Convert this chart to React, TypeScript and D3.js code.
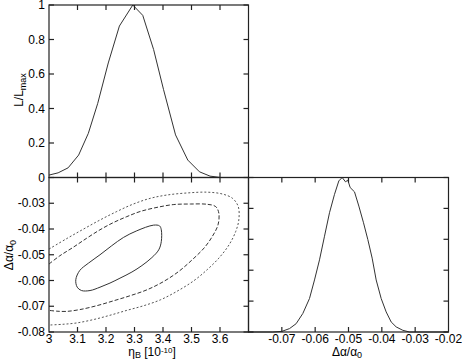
import React from 'react';
import * as d3 from 'd3';

// 1D likelihood of eta_B
const etaGrid = [3.0, 3.032, 3.067, 3.104, 3.138, 3.171, 3.208, 3.247, 3.294, 3.329, 3.367, 3.402, 3.444, 3.487, 3.528, 3.565, 3.602, 3.7];
const etaLike = [0.014, 0.027, 0.056, 0.13, 0.256, 0.43, 0.664, 0.878, 1.0, 0.94, 0.742, 0.509, 0.247, 0.101, 0.033, 0.008, 0.0, 0.0];

// 1D likelihood of Delta alpha / alpha
const daGrid = [-0.08, -0.0727, -0.070, -0.0677, -0.0657, -0.0637, -0.0617, -0.0602, -0.0587, -0.0572, -0.0557, -0.0542, -0.0529, -0.0519, -0.0509, -0.0502, -0.0495, -0.0482, -0.0469, -0.0455, -0.0442, -0.0429, -0.0417, -0.0402, -0.0387, -0.0372, -0.0357, -0.0337, -0.0317, -0.02];
const daLike = [0, 0, 0.004, 0.022, 0.054, 0.12, 0.217, 0.337, 0.467, 0.62, 0.772, 0.891, 0.978, 1.0, 0.972, 0.983, 0.935, 0.907, 0.815, 0.707, 0.598, 0.478, 0.337, 0.217, 0.13, 0.065, 0.033, 0.011, 0, 0];

// 2D contours (eta_B, Delta alpha / alpha)
const innerEta = [3.094, 3.108, 3.138, 3.179, 3.220, 3.261, 3.308, 3.367, 3.388, 3.394, 3.394, 3.385, 3.361, 3.326, 3.291, 3.249, 3.214, 3.179, 3.144, 3.114, 3.099, 3.094];
const innerDa = [-0.0597, -0.0561, -0.0533, -0.0500, -0.0465, -0.0433, -0.0407, -0.0385, -0.0388, -0.0403, -0.0449, -0.0481, -0.0511, -0.0542, -0.0567, -0.0591, -0.0610, -0.0626, -0.0639, -0.0639, -0.0626, -0.0610];

const midEta = [3.0, 3.038, 3.085, 3.132, 3.179, 3.226, 3.273, 3.320, 3.379, 3.438, 3.496, 3.555, 3.585, 3.596, 3.593, 3.573, 3.544, 3.502, 3.455, 3.402, 3.344, 3.285, 3.226, 3.167, 3.108, 3.061, 3.026, 3.0];
const midDa = [-0.0536, -0.0504, -0.0471, -0.0436, -0.0403, -0.0375, -0.0352, -0.0332, -0.0316, -0.0305, -0.0303, -0.0304, -0.0313, -0.0339, -0.0384, -0.0429, -0.0474, -0.0520, -0.0565, -0.0604, -0.0636, -0.0659, -0.0679, -0.0698, -0.0713, -0.0720, -0.0719, -0.0716];

const outEta = [3.0, 3.061, 3.120, 3.179, 3.238, 3.296, 3.355, 3.414, 3.485, 3.555, 3.608, 3.644, 3.664, 3.666, 3.655, 3.632, 3.596, 3.555, 3.508, 3.449, 3.391, 3.332, 3.273, 3.214, 3.155, 3.096, 3.049, 3.0];
const outDa = [-0.0478, -0.0438, -0.0401, -0.0365, -0.0332, -0.0303, -0.0281, -0.0268, -0.0260, -0.0257, -0.0264, -0.0281, -0.0313, -0.0365, -0.0410, -0.0461, -0.0513, -0.0558, -0.0601, -0.0642, -0.0675, -0.0698, -0.0716, -0.0735, -0.0752, -0.0765, -0.0770, -0.0773];

// ticks
const etaTicks = [3, 3.1, 3.2, 3.3, 3.4, 3.5, 3.6];
const likeTicks = [0, 0.2, 0.4, 0.6, 0.8, 1];
const daLeftTicks = [-0.03, -0.04, -0.05, -0.06, -0.07, -0.08];
const daBottomTicks = [-0.07, -0.06, -0.05, -0.04, -0.03, -0.02];

const FONT = "'Liberation Sans', Arial, Helvetica, sans-serif";
const TL = 5;

type Panel = { x0: number; x1: number; y0: number; y1: number };

function Frame({ p, xs, ys }: { p: Panel; xs: number[]; ys: number[] }) {
  const c = '#222';
  return (
    <g stroke={c} strokeWidth={1.2} fill="none">
      <rect x={p.x0} y={p.y0} width={p.x1 - p.x0} height={p.y1 - p.y0} />
      {xs.map((x, i) => (
        <g key={'x' + i}>
          <line x1={x} x2={x} y1={p.y1} y2={p.y1 - TL} />
          <line x1={x} x2={x} y1={p.y0} y2={p.y0 + TL} />
        </g>
      ))}
      {ys.map((y, i) => (
        <g key={'y' + i}>
          <line x1={p.x0} x2={p.x0 + TL} y1={y} y2={y} />
          <line x1={p.x1} x2={p.x1 - TL} y1={y} y2={y} />
        </g>
      ))}
    </g>
  );
}

export default function App() {
  const xL = 49, xM = 248.5, xR = 448.5;
  const yT = 5, yM = 177.5, yB = 332;

  const xEta = d3.scaleLinear().domain([3, 3.7]).range([xL, xM]);
  const yLikeTop = d3.scaleLinear().domain([0, 1]).range([yM, yT]);
  const yDa = d3.scaleLinear().domain([-0.08, -0.02]).range([yB, yM]);
  const xDa = d3.scaleLinear().domain([-0.08, -0.02]).range([xM, xR]);
  const yLikeBR = d3.scaleLinear().domain([0, 1]).range([yB, yM]);

  const lineTop = d3.line<number>().x((d, i) => xEta(etaGrid[i])).y(d => yLikeTop(d));
  const lineBR = d3.line<number>().x((d, i) => xDa(daGrid[i])).y(d => yLikeBR(d));

  const contourOpen = (eta: number[], da: number[]) =>
    d3.line<number>().x(d => xEta(d)).y((d, i) => yDa(da[i])).curve(d3.curveCatmullRom)(eta) as string;
  const contourClosed = (eta: number[], da: number[]) =>
    d3.line<number>().x(d => xEta(d)).y((d, i) => yDa(da[i])).curve(d3.curveCatmullRomClosed)(eta) as string;

  const pTop: Panel = { x0: xL, x1: xM, y0: yT, y1: yM };
  const pBL: Panel = { x0: xL, x1: xM, y0: yM, y1: yB };
  const pBR: Panel = { x0: xM, x1: xR, y0: yM, y1: yB };

  const fmt = (v: number) => String(v);
  const allEta = [3.1, 3.2, 3.3, 3.4, 3.5, 3.6];
  const allDa = [-0.07, -0.06, -0.05, -0.04, -0.03];

  return (
    <svg width={462} height={361} style={{ position: 'absolute', left: 0, top: 0, background: '#fff' }} fontFamily={FONT} fontSize={12}>
      <rect x={0} y={0} width={462} height={361} fill="#fff" />
      <defs>
        <clipPath id="clipBL">
          <rect x={xL} y={yM} width={xM - xL} height={yB - yM} />
        </clipPath>
      </defs>

      {/* curves */}
      <path d={lineTop(etaLike) as string} fill="none" stroke="#333" strokeWidth={1} />
      <path d={lineBR(daLike) as string} fill="none" stroke="#333" strokeWidth={1} />
      <g clipPath="url(#clipBL)" fill="none" stroke="#333" strokeWidth={1}>
        <path d={contourClosed(innerEta.slice(0, -1), innerDa.slice(0, -1))} />
        <path d={contourOpen(midEta, midDa)} strokeDasharray="4,2" />
        <path d={contourOpen(outEta, outDa)} strokeDasharray="2,2" stroke="#555" />
      </g>

      {/* frames */}
      <Frame p={pTop} xs={allEta.map(xEta)} ys={likeTicks.map(yLikeTop)} />
      <Frame p={pBL} xs={allEta.map(xEta)} ys={daLeftTicks.map(yDa)} />
      <Frame p={pBR} xs={allDa.map(xDa)} ys={likeTicks.map(yLikeBR)} />

      {/* tick labels */}
      <g fill="#000">
        {likeTicks.map((v, i) => (
          <text key={'lt' + i} x={xL - 4} y={yLikeTop(v)} dy="0.35em" textAnchor="end">{fmt(v)}</text>
        ))}
        {daLeftTicks.map((v, i) => (
          <text key={'dl' + i} x={xL - 4} y={yDa(v)} dy="0.35em" textAnchor="end">{fmt(v)}</text>
        ))}
        {etaTicks.map((v, i) => (
          <text key={'et' + i} x={xEta(v)} y={yB + 11} textAnchor="middle">{fmt(v)}</text>
        ))}
        {daBottomTicks.map((v, i) => (
          <text key={'db' + i} x={xDa(v)} y={yB + 11} textAnchor="middle">{fmt(v)}</text>
        ))}
      </g>

      {/* axis titles */}
      <text x={152} y={356} textAnchor="middle">
        η<tspan fontSize={9} dy={2}>B</tspan>
        <tspan dy={-2}> [10</tspan>
        <tspan fontSize={8} dy={-3}>-10</tspan>
        <tspan dy={3}>]</tspan>
      </text>
      <text x={347} y={356} textAnchor="middle">
        Δα/α<tspan fontSize={9} dy={2}>0</tspan>
      </text>
      <text transform="translate(23,90) rotate(-90)" textAnchor="middle">
        L/L<tspan fontSize={9} dy={3}>max</tspan>
      </text>
      <text transform="translate(13,255) rotate(-90)" textAnchor="middle">
        Δα/α<tspan fontSize={9} dy={3}>0</tspan>
      </text>
    </svg>
  );
}
